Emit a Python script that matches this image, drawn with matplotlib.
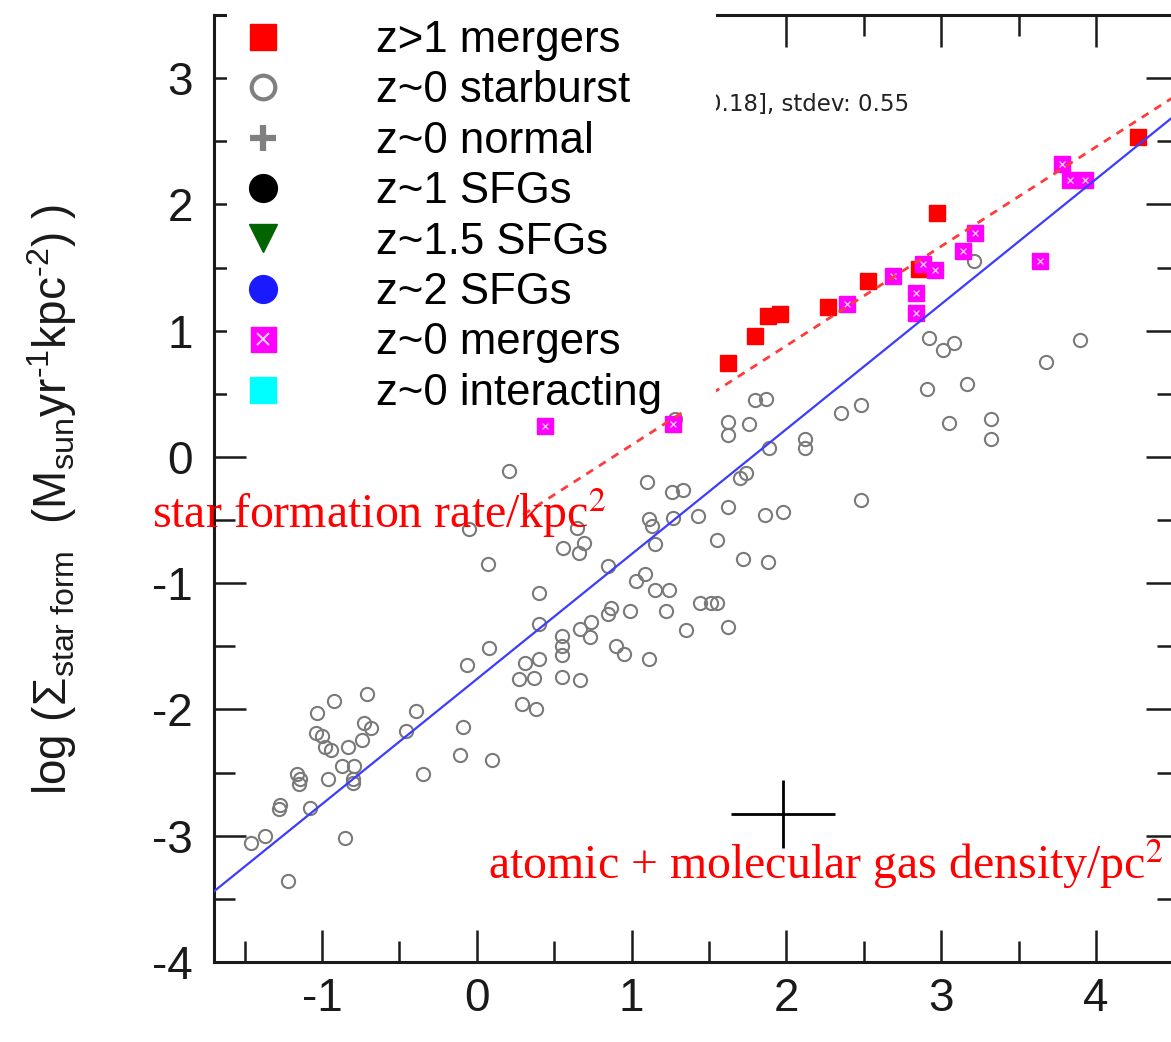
import matplotlib
matplotlib.use("Agg")
import matplotlib.pyplot as plt
import numpy as np
from matplotlib.lines import Line2D
from matplotlib.patches import Rectangle
from matplotlib.legend_handler import HandlerTuple
from matplotlib.ticker import MultipleLocator

plt.rcParams['font.family'] = ['Liberation Sans', 'DejaVu Sans']
plt.rcParams['axes.unicode_minus'] = False
plt.rcParams['mathtext.fontset'] = 'custom'
plt.rcParams['mathtext.rm'] = 'Liberation Sans'
plt.rcParams['mathtext.it'] = 'Liberation Sans:italic'
plt.rcParams['mathtext.bf'] = 'Liberation Sans:bold'

# ---- data: log gas surface density (x) vs log SFR surface density (y) ----
hiz_mergers_x = [1.62, 1.80, 1.88, 1.96, 2.27, 2.53, 2.86, 2.97, 4.27]
hiz_mergers_y = [0.74, 0.96, 1.12, 1.13, 1.19, 1.39, 1.49, 1.93, 2.53]

loz_mergers_x = [0.44, 1.27, 2.39, 2.69, 2.84, 2.84, 2.88, 2.96, 3.14, 3.22,
                 3.64, 3.78, 3.83, 3.93]
loz_mergers_y = [0.245, 0.26, 1.21, 1.43, 1.30, 1.14, 1.53, 1.48, 1.63, 1.77,
                 1.55, 2.32, 2.19, 2.19]

starburst_x = [3.21, 2.92, 3.01, 3.08, 3.90, 3.68, 2.91, 3.17, 3.05, 3.32,
               3.32, 2.35, 2.48, 1.80, 1.87, 1.62, 1.62, 1.76, 1.89, 2.12,
               2.12, 1.28, 1.70, 1.74, 2.48, 1.62, 1.86, 1.98, 1.55, 1.72,
               1.88, 1.43, 1.35, 1.62, 1.44, 1.51, 1.55,
               1.10, 1.26, 1.33, 0.21, 1.27, 1.11, 1.13, -0.05, 0.65,
               0.69, 0.66, 0.56, 0.07, 0.85, 1.15, 0.40, 1.03, 1.09, 1.15,
               1.24, 1.22, 0.40, 0.55, 0.55, 0.55, 0.67, 0.74, 0.73, 0.85,
               0.87, 0.99, 0.08, -0.06, 0.31, 0.40, 0.27, 0.37, 0.55, 0.67,
               0.90, 0.95, 1.11, 0.29, 0.38,
               -0.71, -0.92, -1.03, -0.39, -0.46, -0.09, -0.11, 0.10, -0.35,
               -0.73, -0.68, -1.04, -1.00, -0.98, -0.94, -0.83, -0.74, -0.87,
               -0.79, -0.80, -0.80, -0.96, -1.16, -1.14, -1.15, -1.27, -1.28,
               -1.08, -1.37, -1.46, -0.85, -1.22]
starburst_y = [1.55, 0.94, 0.85, 0.90, 0.93, 0.75, 0.54, 0.58, 0.27, 0.30,
               0.14, 0.35, 0.41, 0.45, 0.46, 0.28, 0.17, 0.26, 0.07, 0.14,
               0.07, 0.30, -0.17, -0.13, -0.34, -0.40, -0.46, -0.44, -0.66, -0.81,
               -0.83, -0.47, -1.37, -1.35, -1.16, -1.16, -1.16,
               -0.20, -0.28, -0.26, -0.11, -0.48, -0.49, -0.55, -0.57, -0.56,
               -0.68, -0.76, -0.72, -0.85, -0.86, -0.69, -1.08, -0.98, -0.93, -1.05,
               -1.05, -1.22, -1.32, -1.42, -1.50, -1.57, -1.36, -1.31, -1.43, -1.24,
               -1.20, -1.22, -1.51, -1.65, -1.63, -1.60, -1.76, -1.75, -1.74, -1.77,
               -1.50, -1.56, -1.60, -1.96, -2.00,
               -1.88, -1.93, -2.03, -2.01, -2.17, -2.14, -2.36, -2.40, -2.51,
               -2.11, -2.15, -2.19, -2.21, -2.30, -2.32, -2.30, -2.24, -2.45,
               -2.45, -2.55, -2.58, -2.55, -2.51, -2.55, -2.59, -2.76, -2.79,
               -2.78, -3.00, -3.06, -3.02, -3.36]

# fitted relations (slope, intercept) and the x range each one spans
disk_fit = (0.99, -1.76)
disk_fit_x = [-1.70, 4.53]
burst_fit = (0.787, -0.693)
burst_fit_x = [0.30, 4.53]

# typical uncertainty cross
err_x, err_y = 1.98, -2.83
err_dx, err_dy = 0.335, 0.27

legend_labels = ['z>1 mergers', 'z~0 starburst', 'z~0 normal', 'z~1 SFGs',
                 'z~1.5 SFGs', 'z~2 SFGs', 'z~0 mergers', 'z~0 interacting']

x_ticks = [-1, 0, 1, 2, 3, 4]
y_ticks = [-4, -3, -2, -1, 0, 1, 2, 3]

# ---- figure ----
W, H = 1171, 1042
fig = plt.figure(figsize=(W / 100, H / 100), dpi=100)
ax = fig.add_axes([213.6 / W, 80 / H, 964.4 / W, 947 / H])
ax.set_xlim(-1.7, 4.53)
ax.set_ylim(-4, 3.5)

gray = '#7a7a7a'
ax.plot(starburst_x, starburst_y, ls='none', marker='o', ms=9.5, mfc='none',
        mec=gray, mew=1.5, zorder=2)
ax.plot(hiz_mergers_x, hiz_mergers_y, ls='none', marker='s', ms=12,
        mfc='#ff0000', mec='#ff0000', zorder=3)
ax.plot(loz_mergers_x, loz_mergers_y, ls='none', marker='s', ms=11,
        mfc='#ff00ff', mec='#ff00ff', zorder=4)
ax.plot(loz_mergers_x, loz_mergers_y, ls='none', marker='x', ms=5,
        mec='white', mew=1.0, alpha=0.75, zorder=4.1)

xf = np.array(disk_fit_x)
ax.plot(xf, disk_fit[0] * xf + disk_fit[1], color='#3c3cff', lw=1.6, zorder=5)
xb = np.array(burst_fit_x)
ax.plot(xb, burst_fit[0] * xb + burst_fit[1], color='#ff3c3c', lw=2.0,
        dashes=(2.9, 2.5), zorder=5)

ax.errorbar([err_x], [err_y], xerr=[err_dx], yerr=[err_dy], fmt='none',
            ecolor='black', elinewidth=2.0, capsize=0, zorder=5)

ax.text(1.49, 2.795, '0.18], stdev: 0.55', fontsize=16.5, family='DejaVu Sans',
        color='#222222', ha='left', va='center', zorder=2)

# axes styling
ax.set_xticks(x_ticks)
ax.set_yticks(y_ticks)
ax.xaxis.set_minor_locator(MultipleLocator(0.5))
ax.yaxis.set_minor_locator(MultipleLocator(0.5))
ax.tick_params(which='both', direction='in', top=True, right=True, width=1.8,
               color='#1a1a1a', labelcolor='#1a1a1a')
ax.tick_params(which='major', length=23)
ax.tick_params(which='minor', length=15)
ax.tick_params(axis='x', which='major', labelsize=33, pad=11)
ax.tick_params(axis='y', which='major', labelsize=33, pad=15)
for sp in ax.spines.values():
    sp.set_linewidth(2.2)
    sp.set_color('#1a1a1a')

fig.text(52 / W, (H - 500) / H,
         r'log ($\Sigma_{\rm star\ form}$  (M$_{\rm sun}$yr$^{\text{-}1}$kpc$^{\text{-}2}$) )',
         rotation=90, ha='center', va='center', fontsize=33, color='#1a1a1a')

# red annotations
ax.text(-2.098, -0.562, 'star formation rate/kpc$^2$', color='red', fontsize=34.5,
        family='Liberation Serif', math_fontfamily='stix', ha='left',
        va='baseline', zorder=10, clip_on=False)
ax.text(0.072, -3.341, 'atomic + molecular gas density/pc$^2$', color='red',
        fontsize=34.5, family='Liberation Serif', math_fontfamily='stix',
        ha='left', va='baseline', zorder=10, clip_on=False)

# legend panel
fig.add_artist(Rectangle((227 / W, (H - 412) / H), (716 - 227) / W, 412 / H,
                         transform=fig.transFigure, facecolor='white',
                         edgecolor='none', zorder=2.5))

def proxy(**kw):
    return Line2D([], [], ls='none', **kw)

handles = [
    proxy(marker='s', ms=19, mfc='#ff0000', mec='#ff0000'),
    proxy(marker='o', ms=17, mfc='none', mec='#808080', mew=3),
    proxy(marker='+', ms=19, mec='#808080', mew=4.5),
    proxy(marker='o', ms=20, mfc='black', mec='black'),
    proxy(marker='v', ms=20, mfc='#006400', mec='#006400'),
    proxy(marker='o', ms=20, mfc='#1a1aff', mec='#1a1aff'),
    (proxy(marker='s', ms=18, mfc='#ff00ff', mec='#ff00ff'),
     proxy(marker='x', ms=8, mec='white', mew=1.5, alpha=0.8)),
    proxy(marker='s', ms=19, mfc='#00ffff', mec='#00ffff'),
]
leg = fig.legend(handles, legend_labels, loc='upper left',
                 bbox_to_anchor=(219 / W, 1 - 20 / H),
                 bbox_transform=fig.transFigure, frameon=False,
                 prop={'family': 'Liberation Sans', 'size': 31.5},
                 handlelength=2.0, handletextpad=1.6, labelspacing=0.215,
                 borderpad=0, borderaxespad=0, numpoints=1,
                 handler_map={tuple: HandlerTuple(ndivide=1)})
leg.set_zorder(3)

fig.savefig('out.png', dpi=100)
